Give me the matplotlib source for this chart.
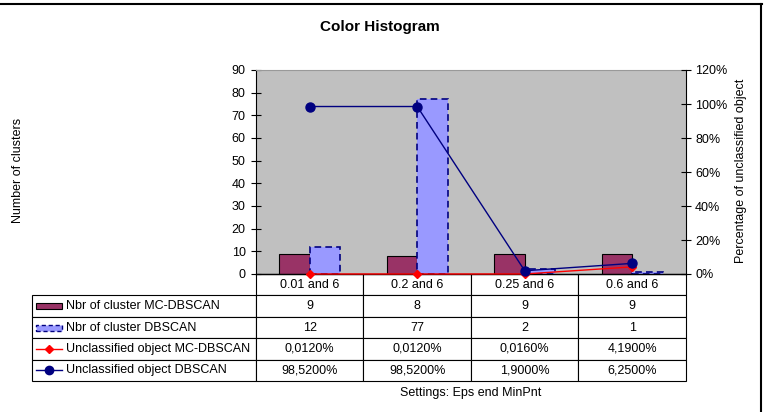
import matplotlib
matplotlib.use("Agg")
import numpy as np
import matplotlib.pyplot as plt
from matplotlib.patches import Rectangle
from matplotlib.lines import Line2D
from matplotlib.table import Table
from matplotlib.ticker import PercentFormatter

plt.rcParams['font.family'] = ['Liberation Sans', 'DejaVu Sans']

settings = ["0.01 and 6", "0.2 and 6", "0.25 and 6", "0.6 and 6"]
clusters_mc = [9, 8, 9, 9]
clusters_db = [12, 77, 2, 1]
unclass_mc = [0.0120, 0.0120, 0.0160, 4.1900]    # percent
unclass_db = [98.5200, 98.5200, 1.9000, 6.2500]  # percent
series_names = ["Nbr of cluster MC-DBSCAN", "Nbr of cluster DBSCAN",
                "Unclassified object MC-DBSCAN", "Unclassified object DBSCAN"]

MAROON = '#993366'
LILAC = '#9999FF'
NAVY = '#000080'
RED = '#FF0000'

W, H = 765, 412
fig = plt.figure(figsize=(W / 100, H / 100), dpi=100)


def fx(px):
    return px / W


def fy(py):
    return 1 - py / H


# plot area, in pixels
L, R, T, B = 256, 686, 70, 274
ax = fig.add_axes([fx(L), fy(B), (R - L) / W, (B - T) / H])
ax.set_facecolor('#C0C0C0')

x = np.arange(len(settings))
bw = 0.285
ax.bar(x - bw / 2, clusters_mc, bw, color=MAROON, edgecolor='black', linewidth=0.8)
ax.bar(x + bw / 2, clusters_db, bw, color=LILAC, edgecolor=NAVY,
       linewidth=1.2, linestyle=(0, (4, 2.5)))
ax.set_xlim(-0.5, len(settings) - 0.5)
ax.set_ylim(0, 90)
ax.set_yticks(range(0, 91, 10))
ax.set_xticks([])
ax.tick_params(axis='y', direction='inout', length=7, width=0.8, labelsize=9, pad=4)
ax.spines['top'].set_color('#999999')
ax.spines['top'].set_linewidth(0.8)
ax.spines['right'].set_visible(False)
ax.spines['left'].set_linewidth(0.8)
ax.spines['bottom'].set_linewidth(1.0)

ax2 = ax.twinx()
ax2.plot(x, np.array(unclass_mc) / 100, color=RED, marker='D', ms=4.5, lw=1,
         clip_on=False)
ax2.plot(x, np.array(unclass_db) / 100, color=NAVY, marker='o', ms=6.5, lw=1,
         clip_on=False)
ax2.set_ylim(0, 1.2)
ax2.set_yticks(np.arange(0, 1.21, 0.2))
ax2.yaxis.set_major_formatter(PercentFormatter(1.0, decimals=0))
ax2.tick_params(axis='y', direction='inout', length=7, width=0.8, labelsize=9, pad=3)
for s in ('top', 'left', 'bottom'):
    ax2.spines[s].set_visible(False)
ax2.spines['right'].set_linewidth(0.8)


# data table under the plot
def pct(v):
    return f"{v:.4f}%".replace('.', ',')


cell_text = [[str(v) for v in clusters_mc],
             [str(v) for v in clusters_db],
             [pct(v) for v in unclass_mc],
             [pct(v) for v in unclass_db]]

TL, TB = 32, 381
cw = 1 / len(settings)
lw_label = (L - TL) / (R - L)
ch = 1 / 5
# the bbox covers only the value cells; the label column hangs off to the left
tbl = Table(ax, bbox=[0, -(TB - B) / (B - T), 1, (TB - B) / (B - T)])
for j, s in enumerate(settings):
    tbl.add_cell(0, j, width=cw, height=ch, text=s, loc='center')
for i, name in enumerate(series_names):
    c = tbl.add_cell(i + 1, -1, width=lw_label, height=ch, text=name, loc='left')
    c.PAD = (66 - TL) / (L - TL)
    for j, t in enumerate(cell_text[i]):
        tbl.add_cell(i + 1, j, width=cw, height=ch, text=t, loc='center')
tbl.auto_set_font_size(False)
tbl.set_fontsize(9)
for cell in tbl.get_celld().values():
    cell.set_linewidth(0.8)
    cell.set_edgecolor('black')
    cell.set_facecolor('white')
ax.add_table(tbl)

# legend keys in the row-label column
rh = (TB - B) / 5
k0, k1 = 36, 62
for i in range(4):
    cy = B + rh * (i + 1.5)
    if i == 0:
        fig.add_artist(Rectangle((fx(k0), fy(cy + 3)), (k1 - k0) / W, 6 / H,
                                 transform=fig.transFigure, fc=MAROON,
                                 ec='black', lw=0.8))
    elif i == 1:
        fig.add_artist(Rectangle((fx(k0), fy(cy + 3)), (k1 - k0) / W, 6 / H,
                                 transform=fig.transFigure, fc=LILAC,
                                 ec=NAVY, lw=1.0, ls=(0, (3, 2))))
    else:
        col, mk, ms = (RED, 'D', 4.5) if i == 2 else (NAVY, 'o', 6)
        fig.add_artist(Line2D([fx(k0), fx(k1)], [fy(cy), fy(cy)],
                              transform=fig.transFigure, color=col, lw=1))
        fig.add_artist(Line2D([fx((k0 + k1) / 2)], [fy(cy)],
                              transform=fig.transFigure, color=col,
                              marker=mk, ms=ms, lw=0))

# texts
fig.text(fx(380), fy(27), "Color Histogram", fontsize=11, fontweight='bold',
         ha='center', va='center')
fig.text(fx(18), fy(170), "Number of clusters", fontsize=9, rotation=90,
         ha='center', va='center')
fig.text(fx(741), fy(171), "Percentage of unclassified object", fontsize=9,
         rotation=90, ha='center', va='center')
fig.text(fx(471), fy(393), "Settings: Eps end MinPnt", fontsize=9,
         ha='center', va='center')

# chart frame (top and right edges visible in the crop)
fig.add_artist(Line2D([0, fx(762)], [fy(4), fy(4)], transform=fig.transFigure,
                      color='black', lw=1.5))
fig.add_artist(Line2D([fx(761), fx(761)], [fy(4), 0], transform=fig.transFigure,
                      color='black', lw=1.5))

fig.savefig('out.png', dpi=100)
